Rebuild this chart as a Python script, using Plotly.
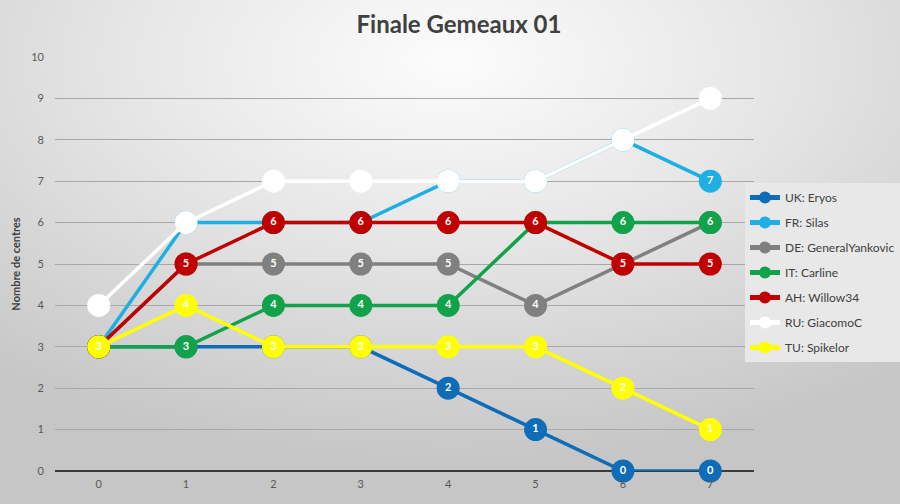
import base64
import plotly.graph_objects as go

rounds = [0, 1, 2, 3, 4, 5, 6, 7]
names = ["UK: Eryos", "FR: Silas", "DE: GeneralYankovic", "IT: Carline",
         "AH: Willow34", "RU: GiacomoC", "TU: Spikelor"]
uk = [3, 3, 3, 3, 2, 1, 0, 0]
fr = [3, 6, 6, 6, 7, 7, 8, 7]
de = [3, 5, 5, 5, 5, 4, 5, 6]
it = [3, 3, 4, 4, 4, 6, 6, 6]
ah = [3, 5, 6, 6, 6, 6, 5, 5]
ru = [4, 6, 7, 7, 7, 7, 8, 9]
tu = [3, 4, 3, 3, 3, 3, 2, 1]
series = [uk, fr, de, it, ah, ru, tu]
colors = ["#0f6cb6", "#1fafe5", "#808080", "#12a24b", "#c00000", "#ffffff", "#ffff00"]
yticks = list(range(0, 11))

FONT = "Lato, 'Open Sans', sans-serif"

W, H = 900, 504
ml, mr, mt, mb = 55, 146, 57, 33
pw, ph = W - ml - mr, H - mt - mb

svg = (
    "<svg xmlns='http://www.w3.org/2000/svg' width='900' height='504'>"
    "<defs><radialGradient id='g' cx='0.5' cy='0.12' r='0.8'>"
    "<stop offset='0' stop-color='#fcfcfc'/>"
    "<stop offset='0.45' stop-color='#e6e6e6'/>"
    "<stop offset='1' stop-color='#c6c6c6'/>"
    "</radialGradient></defs>"
    "<rect width='900' height='504' fill='url(#g)'/></svg>"
)
src = "data:image/svg+xml;base64," + base64.b64encode(svg.encode()).decode()

fig = go.Figure()
for name, vals, col in zip(names, series, colors):
    fig.add_trace(go.Scatter(
        x=rounds, y=vals, name=name, legendgroup=name,
        mode="lines+markers+text",
        line=dict(color=col, width=3.5),
        marker=dict(color=col, size=23, line=dict(width=0)),
        text=[str(v) for v in vals], textposition="middle center",
        textfont=dict(color="white", size=11, family=FONT, weight="bold"),
        cliponaxis=False,
    ))

fig.update_layout(
    width=W, height=H,
    margin=dict(l=ml, r=mr, t=mt, b=mb, autoexpand=False),
    paper_bgcolor="#d8d8d8",
    plot_bgcolor="rgba(0,0,0,0)",
    images=[dict(source=src, xref="paper", yref="paper",
                 x=-ml / pw, y=1 + mt / ph, sizex=W / pw, sizey=H / ph,
                 sizing="stretch", layer="below", xanchor="left", yanchor="top")],
    title=dict(text="<b>Finale Gemeaux 01</b>", x=459 / W, xref="container", xanchor="center",
               y=1 - 25 / H, yref="container", yanchor="middle",
               font=dict(family=FONT, size=24, color="#404040")),
    font=dict(family=FONT, color="#595959", size=11),
    showlegend=True,
    legend=dict(x=(745 - ml) / pw, y=(H - mb - 183) / ph, xanchor="left", yanchor="top",
                bgcolor="#e8e8e8", borderwidth=0, itemsizing="constant",
                font=dict(family=FONT, size=12, color="#404040"),
                traceorder="grouped", tracegroupgap=6, itemwidth=30),
    xaxis=dict(range=[-0.5, 7.5], tickmode="array", tickvals=rounds,
               ticktext=[str(r) for r in rounds], showgrid=False, zeroline=False,
               showline=False, ticks="", ticklabelstandoff=5,
               tickfont=dict(size=11, color="#595959")),
    yaxis=dict(range=[0, 10], tickmode="array", tickvals=yticks,
               ticktext=[str(t) for t in yticks], showgrid=True, gridcolor="#a8a8a8",
               gridwidth=1, zeroline=True, zerolinecolor="#3a3a3a", zerolinewidth=2,
               showline=False, ticks="", ticklabelstandoff=10,
               title=dict(text="<b>Nombre de centres</b>", standoff=8,
                          font=dict(size=11, color="#404040")),
               tickfont=dict(size=11, color="#595959")),
)

fig.write_html("out.html", config={"displayModeBar": False},
               post_script="document.body.style.margin='0';document.body.style.overflow='hidden';")
